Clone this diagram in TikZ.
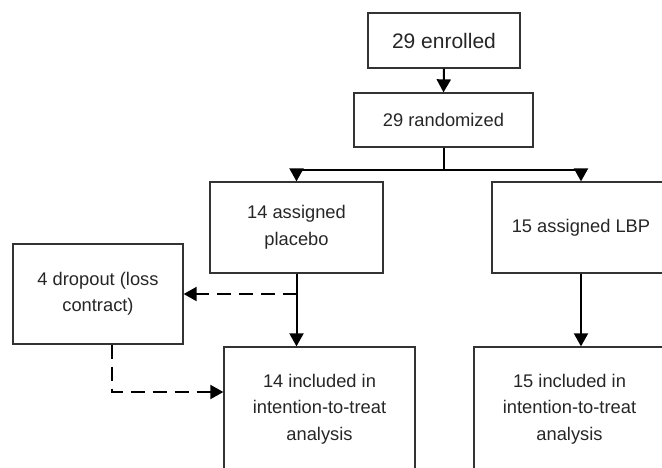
\documentclass[tikz,border=0pt]{standalone}
\usepackage{fontspec}
\setmainfont{Liberation Sans}
\usetikzlibrary{arrows.meta}
\begin{document}
\begin{tikzpicture}[x=1pt,y=-1pt,
 box/.style={draw=black!80, line width=1.3pt, align=center, inner sep=0pt,
   font=\fontsize{18.3}{26.5}\selectfont, text=black!85},
 conn/.style={line width=2pt, -{Triangle[length=13pt,width=14pt]}},
 dconn/.style={conn, dash pattern=on 14pt off 8pt}]
\useasboundingbox (0,0) rectangle (662,467);
\clip (0,0) rectangle (662,467);
\node[box, minimum width=152, minimum height=55, font=\fontsize{21}{26}\selectfont] (enr) at (444,40.5) {29 enrolled};
\node[box, minimum width=179, minimum height=54] (rnd) at (443.5,120) {29 randomized};
\node[box, minimum width=173, minimum height=91] (plc) at (296.5,227.5) {14 assigned\\placebo};
\node[box, minimum width=178, minimum height=91] (lbp) at (581,227.5) {15 assigned LBP};
\node[box, minimum width=170, minimum height=100] (drop) at (98,294) {4 dropout (loss\\contract)};
\node[box, minimum width=191, minimum height=124] (inc1) at (319.5,409) {14 included in\\intention-to-treat\\analysis};
\node[box, minimum width=191, minimum height=124] (inc2) at (569.5,409) {15 included in\\intention-to-treat\\analysis};
\coordinate (split) at (443.5,170);
\coordinate (branch) at (297,294);
\draw[conn] (enr.south) -- (rnd.north);
\draw[line width=2pt] (rnd.south) -- (split);
\draw[conn] (split) -| (plc.north);
\draw[conn] (split) -| (lbp.north);
\draw[conn] (plc.south) -- (plc.south |- inc1.north);
\draw[conn] (lbp.south) -- (lbp.south |- inc2.north);
\draw[dconn] (branch) -- (drop.east);
\draw[dconn] ([xshift=14pt]drop.south) |- ([yshift=17pt]inc1.west);
\end{tikzpicture}
\end{document}
